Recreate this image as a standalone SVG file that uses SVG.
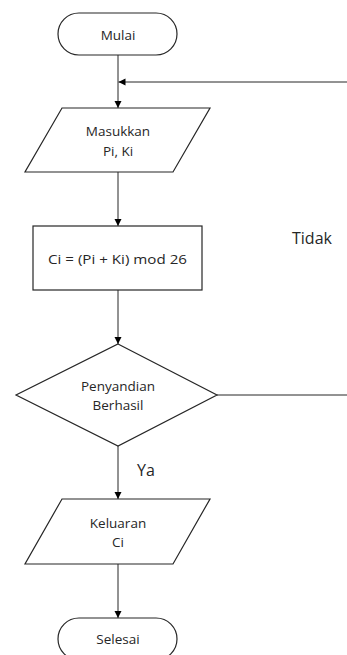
<svg xmlns="http://www.w3.org/2000/svg" width="347" height="655" viewBox="0 0 347 655">
<defs>
<style>
.s{fill:#fff;stroke:#262626;stroke-width:1.2}
.c{fill:none;stroke:#262626;stroke-width:1}
.t{font-family:"Open Sans","Liberation Sans",sans-serif;font-size:13.5px;fill:#262626;text-anchor:middle}
.l{font-family:"Open Sans","Liberation Sans",sans-serif;font-size:16px;fill:#262626}
</style>
<marker id="a" markerWidth="8" markerHeight="8" refX="7" refY="4" orient="auto" markerUnits="userSpaceOnUse">
<path d="M0,0.5 L7,4 L0,7.5 Z" fill="#000"/>
</marker>
</defs>
<rect width="347" height="655" fill="#fff"/>
<g id="connectors">
<line class="c" x1="118" y1="55" x2="118" y2="108" marker-end="url(#a)"/>
<line class="c" x1="347" y1="82" x2="118.5" y2="82" marker-end="url(#a)" stroke="#555"/>
<line class="c" x1="118" y1="172" x2="118" y2="226" marker-end="url(#a)"/>
<line class="c" x1="118" y1="290" x2="118" y2="344" marker-end="url(#a)"/>
<line class="c" x1="217" y1="395" x2="347" y2="395" stroke="#555"/>
<line class="c" x1="118" y1="446" x2="118" y2="499" marker-end="url(#a)"/>
<line class="c" x1="118" y1="564" x2="118" y2="618" marker-end="url(#a)"/>
<text class="l" x="292" y="244">Tidak</text>
<text class="l" x="137" y="476">Ya</text>
</g>
<g id="mulai">
<rect class="s" x="58" y="13" width="119" height="42" rx="21" ry="21"/>
<text class="t" x="118" y="39.5">Mulai</text>
</g>
<g id="masukkan">
<polygon class="s" points="62,108 210,108 173,172 25,172"/>
<text class="t" x="118" y="136">Masukkan</text>
<text class="t" x="118" y="156">Pi, Ki</text>
</g>
<g id="proses">
<rect class="s" x="33" y="226" width="169" height="64"/>
<text class="t" x="117.5" y="263.5" textLength="139" lengthAdjust="spacingAndGlyphs">Ci = (Pi + Ki) mod 26</text>
</g>
<g id="keputusan">
<polygon class="s" points="118,344 217,395 118,446 16,395"/>
<text class="t" x="118" y="391">Penyandian</text>
<text class="t" x="118" y="410">Berhasil</text>
</g>
<g id="keluaran">
<polygon class="s" points="62,499 210,499 173,564 25,564"/>
<text class="t" x="118" y="528">Keluaran</text>
<text class="t" x="118" y="547">Ci</text>
</g>
<g id="selesai">
<rect class="s" x="58" y="618" width="119" height="42" rx="21" ry="21"/>
<text class="t" x="118" y="643.5">Selesai</text>
</g>
</svg>
